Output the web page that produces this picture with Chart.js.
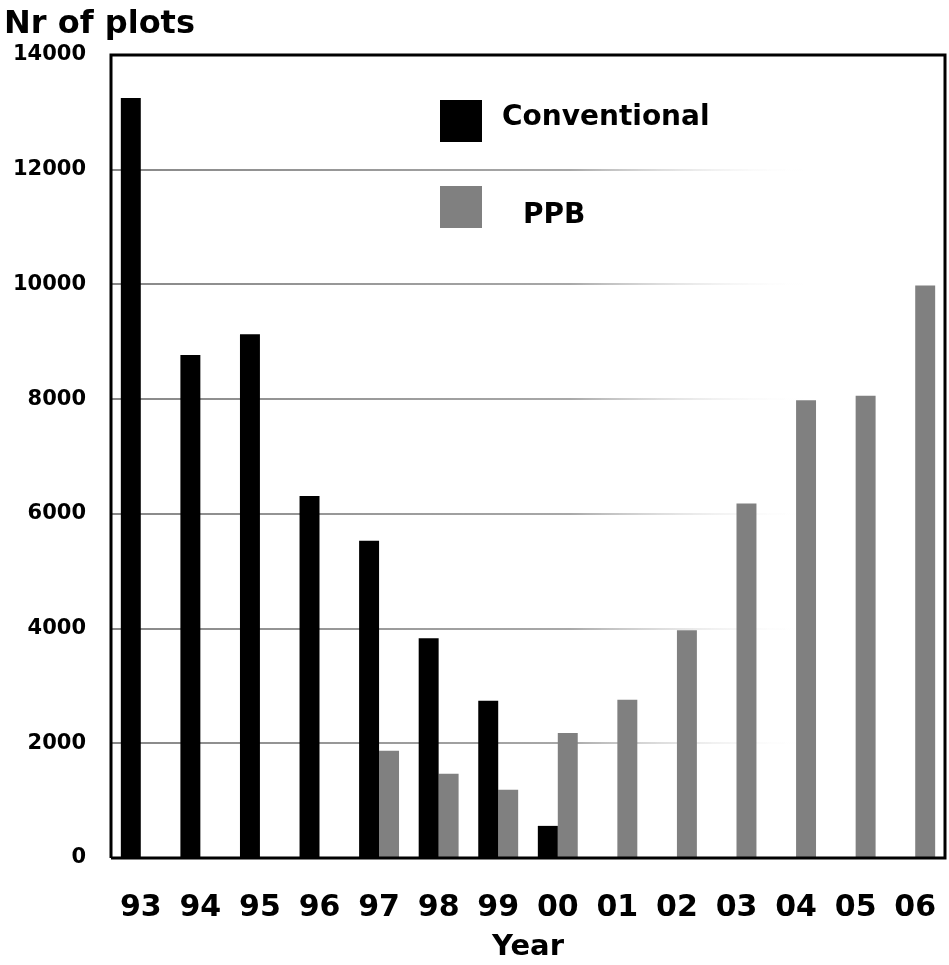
<!DOCTYPE html>
<html>
<head>
<meta charset="utf-8">
<script src="https://cdn.jsdelivr.net/npm/chart.js@4.4.0/dist/chart.umd.min.js"></script>
<style>
  html, body { margin: 0; padding: 0; background: #fff; }
  #wrap { width: 949px; height: 965px; }
</style>
</head>
<body>
<div id="wrap"><canvas id="plotsChart"></canvas></div>
<script>
const years = ['93', '94', '95', '96', '97', '98', '99', '00', '01', '02', '03', '04', '05', '06'];
const conventional = [13250, 8770, 9130, 6310, 5530, 3830, 2740, 560, 0, 0, 0, 0, 0, 0];
const ppb = [0, 0, 0, 0, 1870, 1470, 1190, 2180, 2760, 3970, 6180, 7980, 8060, 9980];
const yTicks = [0, 2000, 4000, 6000, 8000, 10000, 12000, 14000];

const FONT = '"DejaVu Sans", Verdana, sans-serif';

// frame round the plot, title top left, legend inside
const decorPlugin = {
    id: 'decor',
    afterDraw(chart) {
        const ctx = chart.ctx;
        const a = chart.chartArea;
        ctx.save();
        ctx.strokeStyle = '#000';
        ctx.lineWidth = 3;
        ctx.beginPath();
        ctx.moveTo(a.left, a.bottom);
        ctx.lineTo(a.left, a.top);
        ctx.lineTo(a.right, a.top);
        ctx.lineTo(a.right, a.bottom);
        ctx.lineTo(a.left, a.bottom);
        ctx.stroke();

        ctx.fillStyle = '#000';
        ctx.font = 'bold 32px ' + FONT;
        ctx.textBaseline = 'alphabetic';
        ctx.textAlign = 'left';
        ctx.fillText('Nr of plots', 4, 33);

        const items = [
            { x: 440, y: 100, tx: 502, ty: 118 },
            { x: 440, y: 186, tx: 523, ty: 216 }
        ];
        chart.data.datasets.forEach((ds, i) => {
            const it = items[i];
            ctx.fillStyle = ds.backgroundColor;
            ctx.fillRect(it.x, it.y, 42, 42);
            ctx.fillStyle = '#000';
            ctx.font = 'bold 28px ' + FONT;
            ctx.textBaseline = 'middle';
            ctx.fillText(ds.label, it.tx, it.ty);
        });
        ctx.restore();
    }
};

// grid lines fade out towards the right like in the original
function gridColor(c) {
    const chart = c.chart;
    const a = chart.chartArea;
    if (!a) return '#8c8c8c';
    const g = chart.ctx.createLinearGradient(a.left, 0, a.right, 0);
    g.addColorStop(0, '#888888');
    g.addColorStop(0.55, '#a8a8a8');
    g.addColorStop(0.84, 'rgba(255,255,255,0)');
    return g;
}

new Chart(document.getElementById('plotsChart').getContext('2d'), {
    type: 'bar',
    data: {
        labels: years,
        datasets: [
            {
                label: 'Conventional',
                data: conventional,
                backgroundColor: '#000000',
                categoryPercentage: 0.67,
                barPercentage: 1.0
            },
            {
                label: 'PPB',
                data: ppb,
                backgroundColor: '#808080',
                categoryPercentage: 0.67,
                barPercentage: 1.0
            }
        ]
    },
    options: {
        responsive: true,
        maintainAspectRatio: false,
        animation: false,
        layout: {
            padding: { top: 55, right: 4, left: 0, bottom: 0 }
        },
        plugins: {
            legend: { display: false },
            tooltip: { enabled: false }
        },
        scales: {
            x: {
                grid: { display: false },
                border: { display: false },
                ticks: {
                    color: '#000',
                    font: { family: FONT, size: 30, weight: 'bold' },
                    padding: 24,
                    maxRotation: 0
                },
                title: {
                    display: true,
                    text: 'Year',
                    color: '#000',
                    font: { family: FONT, size: 29, weight: 'bold' },
                    padding: { top: 0, bottom: 0 }
                },
                afterFit(scale) {
                    scale.height = 107;
                    scale.paddingLeft = 0;
                    scale.paddingRight = 0;
                }
            },
            y: {
                min: 0,
                max: 14000,
                afterBuildTicks(scale) {
                    scale.ticks = yTicks.map(v => ({ value: v }));
                },
                grid: {
                    color: gridColor,
                    lineWidth: 2,
                    drawTicks: false
                },
                border: { display: false },
                ticks: {
                    color: '#000',
                    font: { family: FONT, size: 21, weight: 'bold' },
                    padding: 25,
                    callback: v => String(v)
                },
                afterFit(scale) {
                    scale.width = 111;
                    scale.paddingTop = 0;
                    scale.paddingBottom = 0;
                }
            }
        }
    },
    plugins: [decorPlugin]
});
</script>
</body>
</html>
